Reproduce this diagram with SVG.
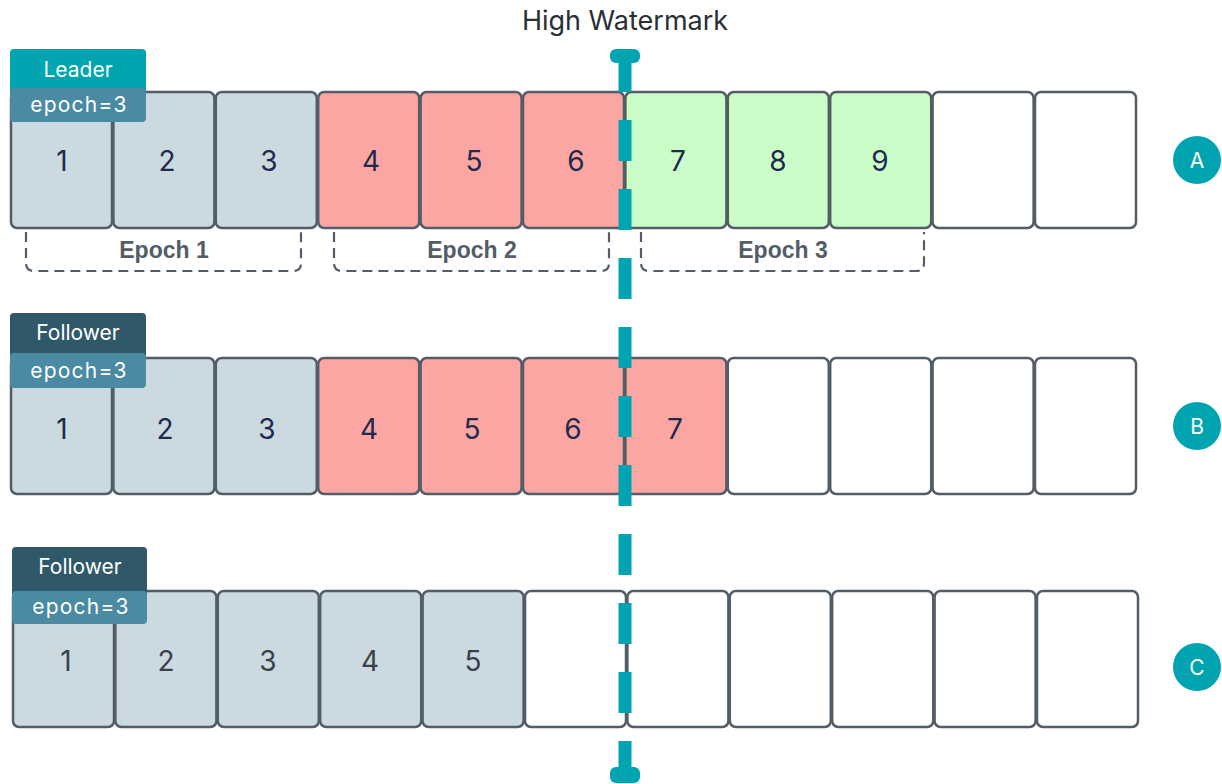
<svg xmlns="http://www.w3.org/2000/svg" width="1222" height="784" viewBox="0 0 1222 784">
<style>
.c{stroke:#535d67;stroke-width:2.5}
.g{fill:#cbdae1}.r{fill:#fca6a4}.gr{fill:#cbfdc8}.w{fill:#ffffff}
.n{font-family:Inter,Roboto,"Liberation Sans",sans-serif;font-size:28px;fill:#1e2b4b;text-anchor:middle}
.nc{fill:#3b4149}
.bt{font-family:Inter,Roboto,"Liberation Sans",sans-serif;font-size:21px;fill:#ffffff;text-anchor:middle}
.ek{letter-spacing:1.2px}
.ep{font-family:"Liberation Sans",Arial,sans-serif;font-size:23px;font-weight:bold;fill:#535d67;text-anchor:middle}
.br{fill:none;stroke:#535d67;stroke-width:2.2;stroke-dasharray:10 6}
.ci{fill:#00a4b0}
.ct{font-family:Inter,Roboto,"Liberation Sans",sans-serif;font-size:21px;fill:#ffffff;text-anchor:middle}
</style>
<rect width="1222" height="784" fill="#ffffff"/>
<text x="625" y="30" font-family="Inter,Roboto,'Liberation Sans',sans-serif" font-size="27" fill="#2a2f33" text-anchor="middle">High Watermark</text>

<g id="rowA">
<rect class="c g" x="11" y="92" width="101" height="136" rx="6"/>
<rect class="c g" x="113.4" y="92" width="101" height="136" rx="6"/>
<rect class="c g" x="215.8" y="92" width="101" height="136" rx="6"/>
<rect class="c r" x="318.2" y="92" width="101" height="136" rx="6"/>
<rect class="c r" x="420.6" y="92" width="101" height="136" rx="6"/>
<rect class="c r" x="523" y="92" width="101" height="136" rx="6"/>
<rect class="c gr" x="625.4" y="92" width="101" height="136" rx="6"/>
<rect class="c gr" x="727.8" y="92" width="101" height="136" rx="6"/>
<rect class="c gr" x="830.2" y="92" width="101" height="136" rx="6"/>
<rect class="c w" x="932.6" y="92" width="101" height="136" rx="6"/>
<rect class="c w" x="1035" y="92" width="101" height="136" rx="6"/>
<text class="n" x="62" y="171">1</text>
<text class="n" x="167" y="171">2</text>
<text class="n" x="269" y="171">3</text>
<text class="n" x="371" y="171">4</text>
<text class="n" x="474" y="171">5</text>
<text class="n" x="576" y="171">6</text>
<text class="n" x="678" y="171">7</text>
<text class="n" x="778" y="171">8</text>
<text class="n" x="880" y="171">9</text>
</g>

<g id="epochs">
<path class="br" d="M26 232 V263 Q26 271 34 271 H293 Q301 271 301 263 V232"/>
<path class="br" d="M334 232 V263 Q334 271 342 271 H601 Q609 271 609 263 V232"/>
<path class="br" d="M641 232 V263 Q641 271 649 271 H916 Q924 271 924 263 V232"/>
<text class="ep" x="164" y="258">Epoch 1</text>
<text class="ep" x="472" y="258">Epoch 2</text>
<text class="ep" x="783" y="258">Epoch 3</text>
</g>

<g id="rowB">
<rect class="c g" x="11" y="358" width="101" height="136" rx="6"/>
<rect class="c g" x="113.4" y="358" width="101" height="136" rx="6"/>
<rect class="c g" x="215.8" y="358" width="101" height="136" rx="6"/>
<rect class="c r" x="318.2" y="358" width="101" height="136" rx="6"/>
<rect class="c r" x="420.6" y="358" width="101" height="136" rx="6"/>
<rect class="c r" x="523" y="358" width="101" height="136" rx="6"/>
<rect class="c r" x="625.4" y="358" width="101" height="136" rx="6"/>
<rect class="c w" x="727.8" y="358" width="101" height="136" rx="6"/>
<rect class="c w" x="830.2" y="358" width="101" height="136" rx="6"/>
<rect class="c w" x="932.6" y="358" width="101" height="136" rx="6"/>
<rect class="c w" x="1035" y="358" width="101" height="136" rx="6"/>
<text class="n" x="62" y="439">1</text>
<text class="n" x="165" y="439">2</text>
<text class="n" x="267" y="439">3</text>
<text class="n" x="369" y="439">4</text>
<text class="n" x="472" y="439">5</text>
<text class="n" x="573" y="439">6</text>
<text class="n" x="675" y="439">7</text>
</g>

<g id="rowC">
<rect class="c g" x="13" y="591" width="101" height="136" rx="6" stroke="#33373b"/>
<rect class="c g" x="115.4" y="591" width="101" height="136" rx="6"/>
<rect class="c g" x="217.8" y="591" width="101" height="136" rx="6"/>
<rect class="c g" x="320.2" y="591" width="101" height="136" rx="6"/>
<rect class="c g" x="422.6" y="591" width="101" height="136" rx="6"/>
<rect class="c w" x="525" y="591" width="101" height="136" rx="6"/>
<rect class="c w" x="627.4" y="591" width="101" height="136" rx="6"/>
<rect class="c w" x="729.8" y="591" width="101" height="136" rx="6"/>
<rect class="c w" x="832.2" y="591" width="101" height="136" rx="6"/>
<rect class="c w" x="934.6" y="591" width="101" height="136" rx="6"/>
<rect class="c w" x="1037" y="591" width="101" height="136" rx="6"/>
<text class="n nc" x="66" y="671">1</text>
<text class="n nc" x="166" y="671">2</text>
<text class="n nc" x="268" y="671">3</text>
<text class="n nc" x="370" y="671">4</text>
<text class="n nc" x="473" y="671">5</text>
</g>

<g id="badgeA">
<rect x="10" y="49" width="136" height="46" rx="4" fill="#00a5b0"/>
<rect x="10" y="88" width="136" height="34" rx="4" fill="#4a8aa3"/>
<text class="bt" x="78" y="77">Leader</text>
<text class="bt ek" x="79" y="112">epoch=3</text>
</g>
<g id="badgeB">
<rect x="10" y="313" width="136" height="46" rx="4" fill="#2f5869"/>
<rect x="10" y="353" width="136" height="35" rx="4" fill="#4a8aa3"/>
<text class="bt" x="78" y="340">Follower</text>
<text class="bt ek" x="79" y="378">epoch=3</text>
</g>
<g id="badgeC">
<rect x="12" y="547" width="135" height="50" rx="4" fill="#2f5869"/>
<rect x="12" y="591" width="135" height="33" rx="4" fill="#4a8aa3"/>
<text class="bt" x="80" y="574">Follower</text>
<text class="bt ek" x="81" y="614">epoch=3</text>
</g>

<g id="connectors">
<line x1="625" y1="51" x2="625" y2="781" stroke="#00a4b0" stroke-width="13" stroke-dasharray="41 28"/>
<rect x="610" y="49" width="30" height="14" rx="6" fill="#00a4b0"/>
<rect x="610" y="767" width="30" height="16" rx="6" fill="#00a4b0"/>
</g>

<g id="circleA"><circle class="ci" cx="1197" cy="160" r="24"/><text class="ct" x="1197" y="168">A</text></g>
<g id="circleB"><circle class="ci" cx="1197" cy="426" r="24"/><text class="ct" x="1197" y="434">B</text></g>
<g id="circleC"><circle class="ci" cx="1197" cy="667" r="24"/><text class="ct" x="1197" y="675">C</text></g>
</svg>
